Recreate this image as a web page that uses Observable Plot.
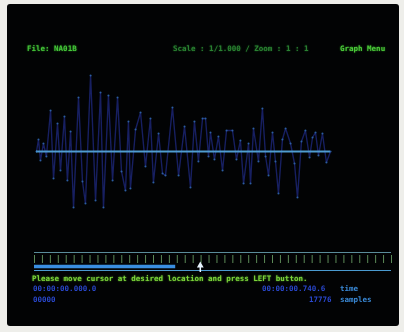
<!DOCTYPE html>
<html><head><meta charset="utf-8">
<script src="https://cdn.jsdelivr.net/npm/d3@7"></script>
<script src="https://cdn.jsdelivr.net/npm/@observablehq/plot@0.6"></script>
<style>
html,body{margin:0;padding:0;background:#eeeeea;width:404px;height:332px;overflow:hidden}
#screen{position:absolute;left:7px;top:4px;width:392px;height:322px;background:#020304;border-radius:3px;overflow:hidden}
.t{position:absolute;font-family:"DejaVu Sans Mono",monospace;font-weight:bold;font-size:7.5px;white-space:pre;line-height:8px;filter:blur(0.35px)}
#wave{position:absolute;left:0;top:60px;filter:blur(0.4px)}
#ruler{position:absolute;left:0;top:241px;filter:blur(0.3px)}
</style></head><body>
<div id="screen">
  <div class="t" id="file" style="left:20px;top:41px;color:#45c83a;text-shadow:0 0 2px #2a8a20"></div>
  <div class="t" id="scale" style="left:166px;top:41px;color:#2a8232;text-shadow:0 0 2px #1a5a20"></div>
  <div class="t" id="menu" style="left:333px;top:41px;color:#4ccc3a;text-shadow:0 0 2px #2a8a20"></div>
  <div id="wave"></div>
  <div id="ruler"></div>
  <div class="t" id="prompt" style="left:25px;top:271px;color:#7cd43a;text-shadow:0 0 2px #4a9a20"></div>
  <div class="t" id="tL" style="left:26px;top:281px;color:#2a48d0"></div>
  <div class="t" id="tR" style="left:255px;top:281px;color:#2a48d0"></div>
  <div class="t" id="tU" style="left:333px;top:281px;color:#3a8ad8"></div>
  <div class="t" id="sL" style="left:26px;top:292px;color:#2a48d0"></div>
  <div class="t" id="sR" style="left:302px;top:292px;color:#2a48d0"></div>
  <div class="t" id="sU" style="left:333px;top:292px;color:#3a8ad8"></div>
</div>
<script>
// ---- texts ----
const fileLabel = "File: NA01B";
const scaleLabel = "Scale : 1/1.000 / Zoom : 1 : 1";
const menuLabel = "Graph Menu";
const promptLabel = "Please move cursor at desired location and press LEFT button.";
const startTime = "00:00:00.000.0";
const endTime = "00:00:00.740.6";
const timeUnit = "time";
const startSample = "00000";
const endSample = "17776";
const sampleUnit = "samples";

// ---- waveform (sample index, amplitude) ----
const sampleIdx = [0,120,240,420,600,850,1030,1270,1450,1690,1870,2060,2240,2540,2780,2960,3270,3570,3870,4050,4350,4600,4900,5140,5380,5560,5680,5990,6290,6590,6890,7070,7380,7620,7800,8220,8590,8950,9310,9550,9790,10040,10220,10400,10520,10760,11000,11250,11490,11850,12090,12330,12520,12820,12940,13120,13420,13660,13850,14030,14270,14450,14630,14870,15060,15360,15600,15780,16020,16260,16510,16690,16870,17050,17290,17530,17776];
const amplitude = [0,12,-9,8,-5,41,-27,28,-19,35,-29,20,-56,54,-30,-52,76,-49,59,-56,56,-29,54,-20,-39,30,-37,22,39,-15,33,-31,18,-22,-24,44,-24,25,-36,30,-10,33,33,-5,19,-8,15,-19,21,21,-8,11,-32,8,-32,23,-10,43,-5,-24,19,-10,-42,12,23,8,-12,-46,10,21,-6,14,19,-4,18,-11,0];
const totalSamples = 17776;

// ---- ruler ----
const rulerTicks = d3.range(0, 46);
const rulerMax = 45;
const scrollEnd = 17.8;
const cursorPos = 20.9;

for (const [id, s] of [["file",fileLabel],["scale",scaleLabel],["menu",menuLabel],["prompt",promptLabel],["tL",startTime],["tR",endTime],["tU",timeUnit],["sL",startSample],["sR",endSample],["sU",sampleUnit]]) document.getElementById(id).textContent = s;

const wave = sampleIdx.map((s, i) => ({s, a: amplitude[i]}));

const w = Plot.plot({
  width: 392, height: 160,
  marginLeft: 29, marginRight: 69, marginTop: 0, marginBottom: 0,
  style: {background: "transparent", overflow: "visible"},
  x: {domain: [0, totalSamples], axis: null},
  y: {domain: [-73, 87], axis: null},
  marks: [
    Plot.line(wave, {x: "s", y: "a", stroke: "#1f2a80", strokeWidth: 1.4, strokeOpacity: 0.75}),
    Plot.ruleY([0], {stroke: "#4f9cd0", strokeWidth: 2}),
    Plot.dot(wave, {x: "s", y: "a", r: 1.1, fill: "#3a86d0", fillOpacity: 0.6, stroke: "none"})
  ]
});
document.getElementById("wave").append(w);

const r = Plot.plot({
  width: 392, height: 30,
  marginLeft: 27, marginRight: 8, marginTop: 0, marginBottom: 0,
  style: {background: "transparent", overflow: "visible"},
  x: {domain: [0, rulerMax], axis: null},
  y: {domain: [0, 30], range: [0, 30], axis: null},
  marks: [
    Plot.ruleY([7], {stroke: "#5a8c9a", strokeWidth: 1}),
    Plot.ruleX(rulerTicks, {y1: 10, y2: 18, stroke: "#5c8a58", strokeWidth: 1}),
    Plot.ruleY([25], {stroke: "#4a9ad0", strokeWidth: 1}),
    Plot.ruleY([21], {x1: 0, x2: scrollEnd, stroke: "#3a8ee0", strokeWidth: 3.5}),
    Plot.ruleX([cursorPos], {y1: 20, y2: 27, stroke: "#e8f4ff", strokeWidth: 1.5}),
    Plot.dot([cursorPos], {x: d => d, y: 20, symbol: "triangle", r: 2.5, fill: "#e8f4ff"})
  ]
});
document.getElementById("ruler").append(r);
</script>
</body></html>
